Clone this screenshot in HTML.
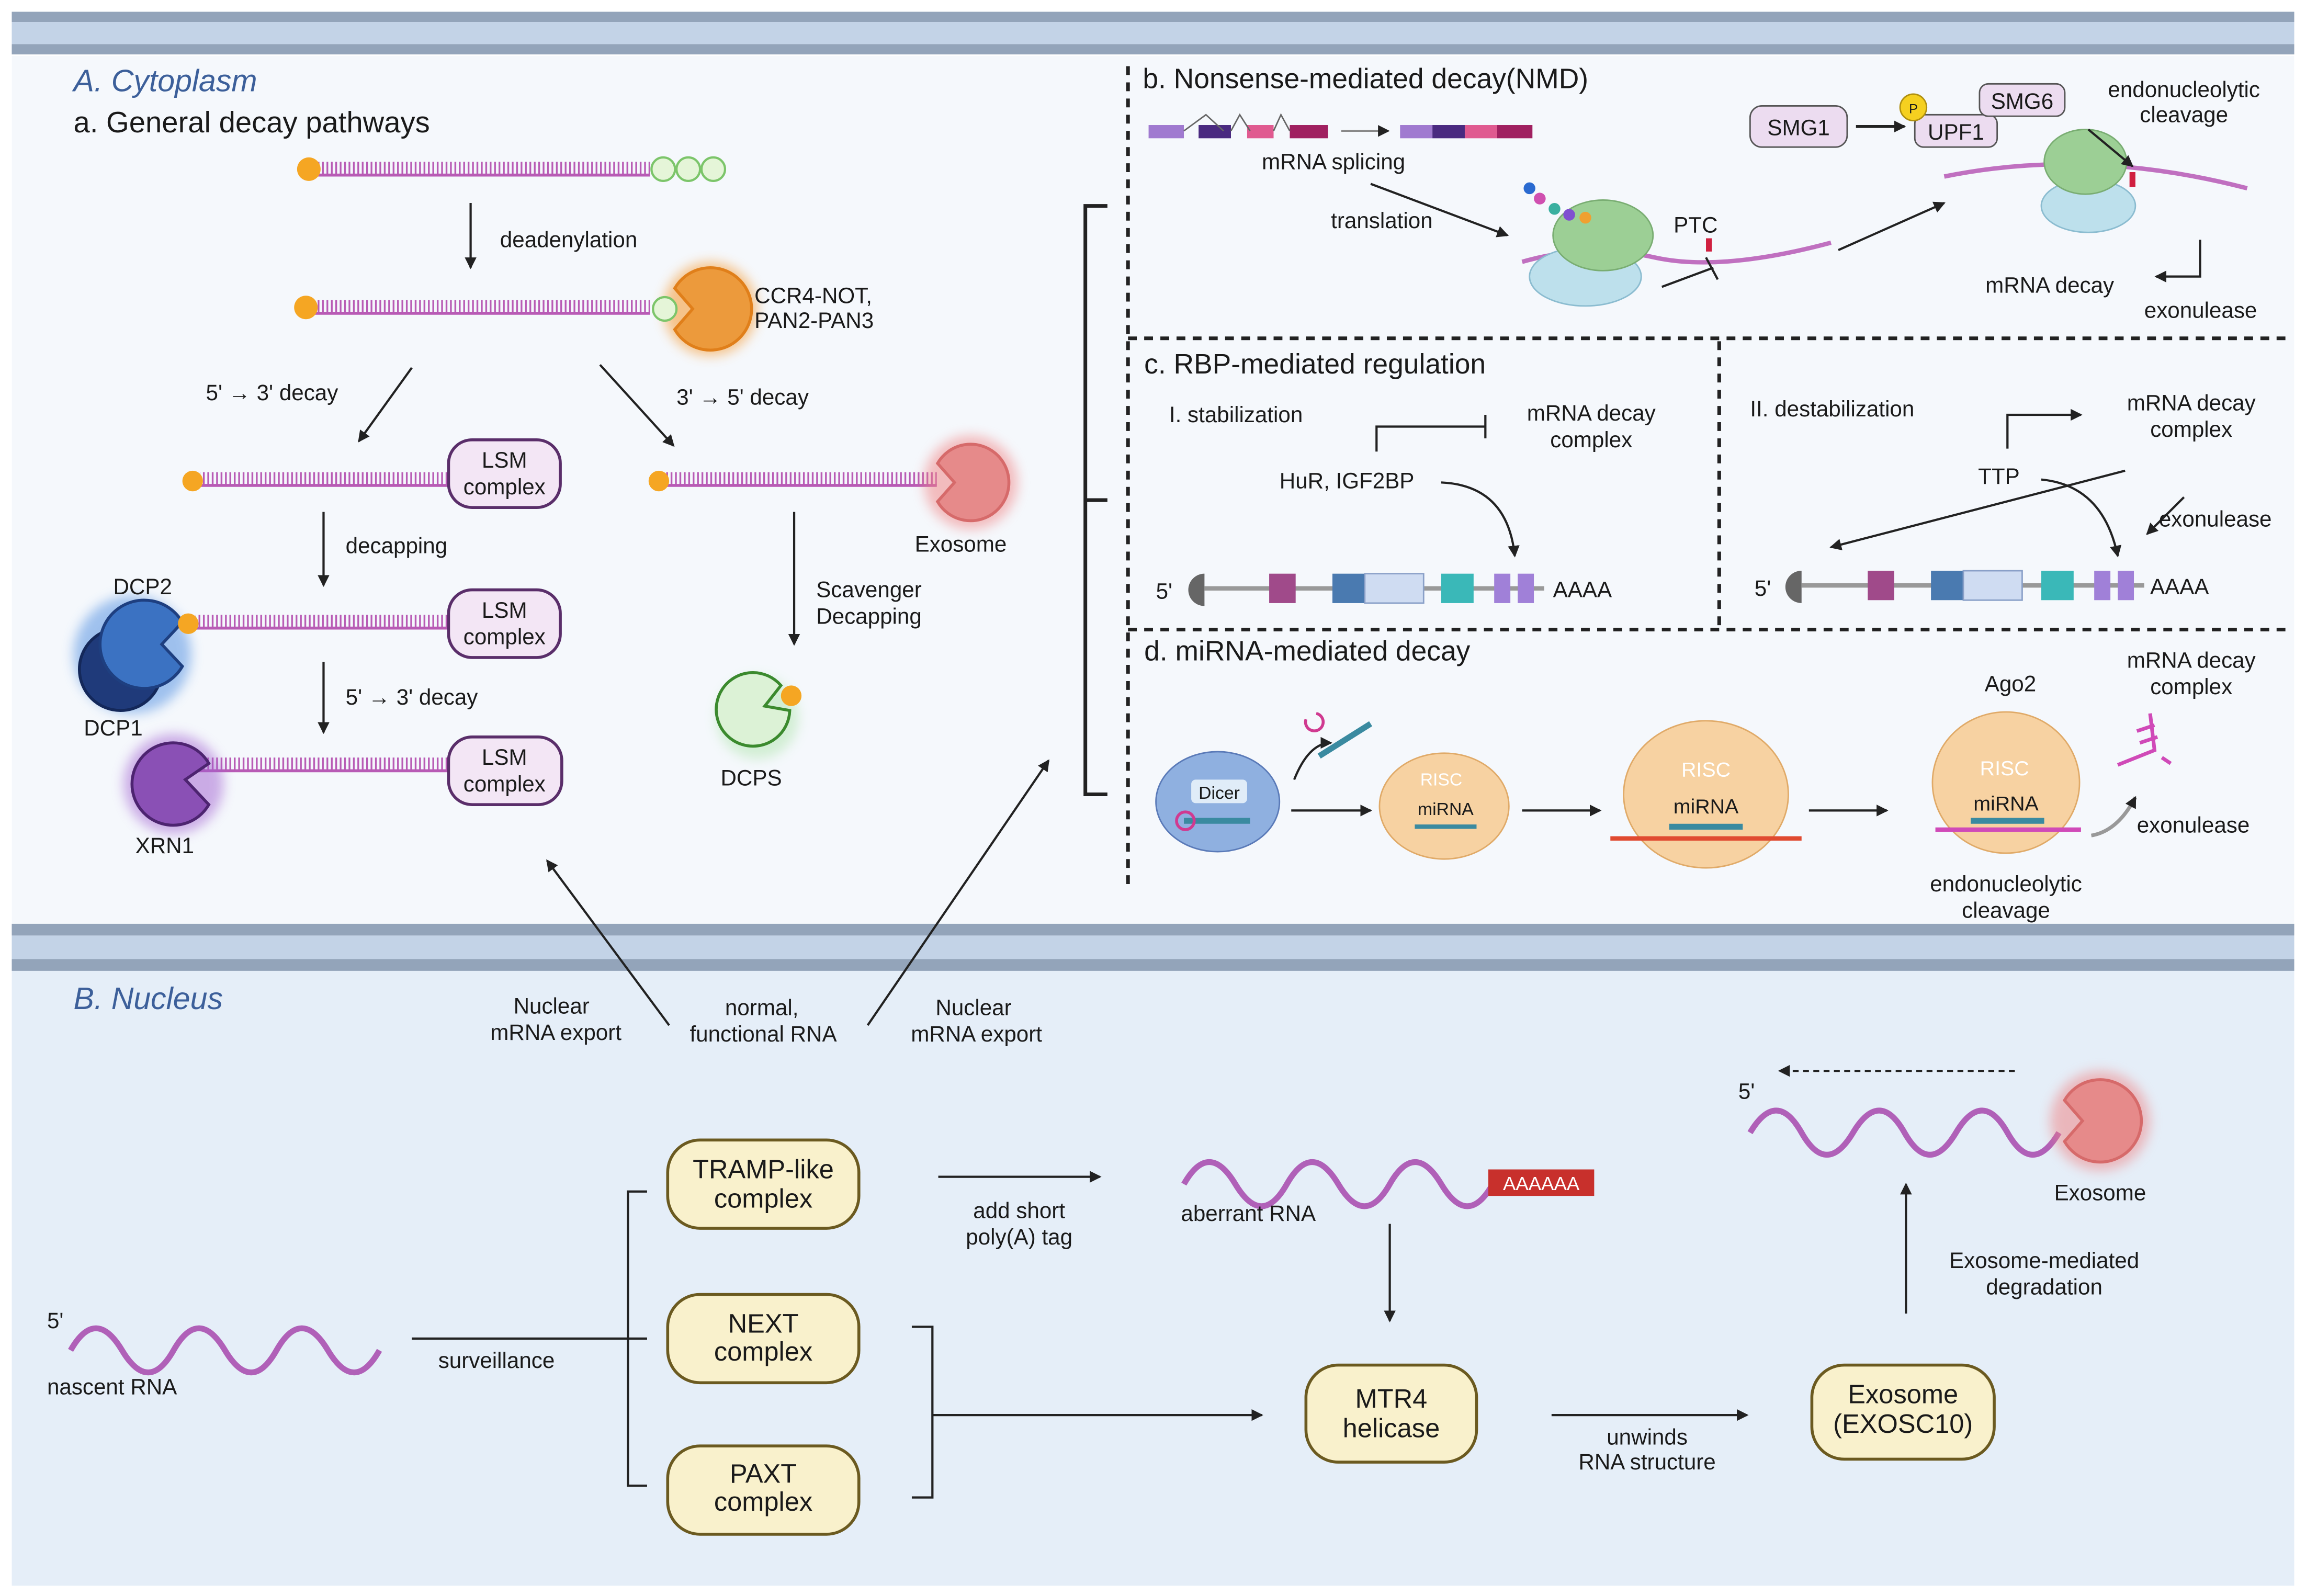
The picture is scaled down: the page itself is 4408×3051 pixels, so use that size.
<!DOCTYPE html>
<html><head><meta charset="utf-8"><style>
html,body{margin:0;padding:0;background:#fff}
svg{display:block}
text{font-family:"Liberation Sans",sans-serif;fill:#1a1a1a}
</style></head><body>
<svg width="4408" height="3051" viewBox="0 0 1568 1085" preserveAspectRatio="none" xmlns="http://www.w3.org/2000/svg">
<defs>
<pattern id="rung" width="3" height="10" patternUnits="userSpaceOnUse"><rect x="0" y="0" width="1.2" height="10" fill="#b85bb5"/></pattern>
<marker id="ar" markerWidth="8" markerHeight="8" refX="7" refY="4" orient="auto" markerUnits="userSpaceOnUse"><path d="M0,0 L8,4 L0,8 Z" fill="#222"/></marker>
<filter id="glow" x="-50%" y="-50%" width="200%" height="200%"><feGaussianBlur stdDeviation="4"/></filter>
</defs>
<rect width="1568" height="1085" fill="#fff"/>
<!-- cytoplasm -->
<rect x="8" y="38" width="1552" height="592" fill="#f5f8fc"/>
<rect x="8" y="8" width="1552" height="7" fill="#93a4ba"/>
<rect x="8" y="15" width="1552" height="15" fill="#c3d3e7"/>
<rect x="8" y="30" width="1552" height="7" fill="#93a4ba"/>
<!-- nucleus -->
<rect x="8" y="660" width="1552" height="418" fill="#e5eef8"/>
<rect x="8" y="628" width="1552" height="8" fill="#93a4ba"/>
<rect x="8" y="636" width="1552" height="16" fill="#c3d3e7"/>
<rect x="8" y="652" width="1552" height="8" fill="#93a4ba"/>

<text x="50" y="62" font-size="21" font-style="italic" fill="#3c5f9a" style="fill:#3c5f9a">A. Cytoplasm</text>
<text x="50" y="90" font-size="20">a. General decay pathways</text>
<text x="50" y="686" font-size="21" font-style="italic" style="fill:#3c5f9a">B. Nucleus</text>

<!-- dashed lines -->
<g stroke="#222" stroke-width="2.5" stroke-dasharray="6,5" fill="none">
<line x1="767" y1="45" x2="767" y2="606"/>
<line x1="767" y1="230" x2="1556" y2="230"/>
<line x1="767" y1="428" x2="1556" y2="428"/>
<line x1="1169" y1="232" x2="1169" y2="426"/>
</g>
<!-- bracket -->
<path d="M753,140 H738 V540 H753 M738,340 H753" stroke="#222" stroke-width="2.5" fill="none"/>

<!-- general decay: RNAs -->
<g>
<rect x="214" y="110" width="228" height="9" fill="url(#rung)"/><line x1="214" y1="119" x2="442" y2="119" stroke="#b85bb5" stroke-width="2"/>
<circle cx="210" cy="115" r="8" fill="#f5a623"/>
<g fill="#e5f5d8" stroke="#7cc56a" stroke-width="1.5"><circle cx="451" cy="115" r="8"/><circle cx="468" cy="115" r="8"/><circle cx="485" cy="115" r="8"/></g>
<line x1="320" y1="138" x2="320" y2="182" stroke="#222" stroke-width="1.5" marker-end="url(#ar)"/>
<text x="340" y="168" font-size="15">deadenylation</text>

<rect x="214" y="204" width="228" height="9" fill="url(#rung)"/><line x1="214" y1="213" x2="442" y2="213" stroke="#b85bb5" stroke-width="2"/>
<circle cx="208" cy="209" r="8" fill="#f5a623"/>
<circle cx="483" cy="210" r="32" fill="#f5a040" opacity="0.6" filter="url(#glow)"/>
<path d="M458.8,196 A28,28 0 1 1 458.8,224 L471,210 Z" fill="#ec9a3c" stroke="#e07f1a" stroke-width="2"/>
<circle cx="452" cy="210" r="8" fill="#e5f5d8" stroke="#7cc56a" stroke-width="1.5"/>
<text x="513" y="206" font-size="15">CCR4-NOT,</text>
<text x="513" y="223" font-size="15">PAN2-PAN3</text>

<line x1="280" y1="250" x2="244" y2="300" stroke="#222" stroke-width="1.5" marker-end="url(#ar)"/>
<line x1="408" y1="248" x2="458" y2="303" stroke="#222" stroke-width="1.5" marker-end="url(#ar)"/>
<text x="140" y="272" font-size="15">5' → 3' decay</text>
<text x="460" y="275" font-size="15">3' → 5' decay</text>

<!-- LSM rows -->
<rect x="136" y="321" width="170" height="9" fill="url(#rung)"/><line x1="136" y1="330" x2="306" y2="330" stroke="#b85bb5" stroke-width="2"/>
<circle cx="131" cy="327" r="7" fill="#f5a623"/>
<rect x="305" y="299" width="76" height="46" rx="16" fill="#f3e6f5" stroke="#5a2e6a" stroke-width="2"/>
<text x="343" y="318" font-size="15" text-anchor="middle">LSM</text><text x="343" y="336" font-size="15" text-anchor="middle">complex</text>

<line x1="220" y1="348" x2="220" y2="398" stroke="#222" stroke-width="1.5" marker-end="url(#ar)"/>
<text x="235" y="376" font-size="15">decapping</text>

<rect x="133" y="418" width="173" height="9" fill="url(#rung)"/><line x1="133" y1="427" x2="306" y2="427" stroke="#b85bb5" stroke-width="2"/>
<rect x="305" y="401" width="76" height="46" rx="16" fill="#f3e6f5" stroke="#5a2e6a" stroke-width="2"/>
<text x="343" y="420" font-size="15" text-anchor="middle">LSM</text><text x="343" y="438" font-size="15" text-anchor="middle">complex</text>
<circle cx="90" cy="445" r="40" fill="#4a8ae0" opacity="0.5" filter="url(#glow)"/>
<circle cx="82" cy="455" r="28" fill="#1f3a7a" stroke="#14285a" stroke-width="2"/>
<path d="M124,453 A30,30 0 1 1 124,423 L110,438 Z" fill="#3b72c2" stroke="#1e3f80" stroke-width="2"/>
<circle cx="128" cy="424" r="7" fill="#f5a623"/>
<text x="77" y="404" font-size="15">DCP2</text>
<text x="57" y="500" font-size="15">DCP1</text>

<line x1="220" y1="450" x2="220" y2="498" stroke="#222" stroke-width="1.5" marker-end="url(#ar)"/>
<text x="235" y="479" font-size="15">5' → 3' decay</text>

<rect x="130" y="515" width="176" height="9" fill="url(#rung)"/><line x1="130" y1="524" x2="306" y2="524" stroke="#b85bb5" stroke-width="2"/>
<rect x="305" y="501" width="77" height="46" rx="16" fill="#f3e6f5" stroke="#5a2e6a" stroke-width="2"/>
<text x="343" y="520" font-size="15" text-anchor="middle">LSM</text><text x="343" y="538" font-size="15" text-anchor="middle">complex</text>
<circle cx="118" cy="533" r="34" fill="#a060d0" opacity="0.5" filter="url(#glow)"/>
<path d="M142,547 A28,28 0 1 1 142,519 L126,530 Z" fill="#8a50b5" stroke="#4d2470" stroke-width="2"/>
<text x="92" y="580" font-size="15">XRN1</text>

<!-- right branch -->
<rect x="452" y="321" width="185" height="9" fill="url(#rung)"/><line x1="452" y1="330" x2="637" y2="330" stroke="#b85bb5" stroke-width="2"/>
<circle cx="448" cy="327" r="7" fill="#f5a623"/>
<circle cx="660" cy="328" r="32" fill="#f08080" opacity="0.5" filter="url(#glow)"/>
<path d="M637.5,315 A26,26 0 1 1 637.5,341 L649,328 Z" fill="#e68a8a" stroke="#d66a6a" stroke-width="2"/>
<text x="622" y="375" font-size="15">Exosome</text>
<line x1="540" y1="348" x2="540" y2="438" stroke="#222" stroke-width="1.5" marker-end="url(#ar)"/>
<text x="555" y="406" font-size="15">Scavenger</text><text x="555" y="424" font-size="15">Decapping</text>
<circle cx="515" cy="488" r="28" fill="#9fe09a" opacity="0.4" filter="url(#glow)"/>
<path d="M531,466 A25,25 0 1 0 537,483 L520,480 Z" fill="#dcf2d6" stroke="#3b8a2e" stroke-width="2"/>
<circle cx="538" cy="473" r="7" fill="#f5a623"/>
<text x="490" y="534" font-size="15">DCPS</text>
</g>

<!-- export arrows -->
<line x1="455" y1="697" x2="372" y2="585" stroke="#222" stroke-width="1.5" marker-end="url(#ar)"/>
<line x1="590" y1="697" x2="713" y2="517" stroke="#222" stroke-width="1.5" marker-end="url(#ar)"/>
<text x="375" y="689" font-size="15" text-anchor="middle">Nuclear</text><text x="378" y="707" font-size="15" text-anchor="middle">mRNA export</text>
<text x="518" y="690" font-size="15" text-anchor="middle">normal,</text><text x="519" y="708" font-size="15" text-anchor="middle">functional RNA</text>
<text x="662" y="690" font-size="15" text-anchor="middle">Nuclear</text><text x="664" y="708" font-size="15" text-anchor="middle">mRNA export</text>

<!-- b. NMD -->
<text x="777" y="60" font-size="19">b. Nonsense-mediated decay(NMD)</text>
<g>
<rect x="781" y="85" width="24" height="9" fill="#a07ad0"/><rect x="815" y="85" width="22" height="9" fill="#4a2a80"/><rect x="848" y="85" width="18" height="9" fill="#e05a90"/><rect x="877" y="85" width="26" height="9" fill="#a02060"/>
<path d="M805,89 L820,78 L832,89 M837,89 L843,78 L850,89 M866,89 L871,78 L877,89" stroke="#666" fill="none"/>
<line x1="912" y1="89" x2="944" y2="89" stroke="#888" stroke-width="1.2" marker-end="url(#ar)"/>
<rect x="952" y="85" width="22" height="9" fill="#a07ad0"/><rect x="974" y="85" width="22" height="9" fill="#4a2a80"/><rect x="996" y="85" width="22" height="9" fill="#e05a90"/><rect x="1018" y="85" width="24" height="9" fill="#a02060"/>
<text x="858" y="115" font-size="15">mRNA splicing</text>
<text x="905" y="155" font-size="15">translation</text>
<line x1="932" y1="125" x2="1025" y2="160" stroke="#222" stroke-width="1.5" marker-end="url(#ar)"/>
<path d="M1035,178 Q1080,165 1125,175 T1245,165" stroke="#c070c0" stroke-width="3" fill="none"/>
<ellipse cx="1078" cy="188" rx="38" ry="20" fill="#bde0ec" stroke="#8bbcd0"/>
<ellipse cx="1090" cy="160" rx="34" ry="24" fill="#9ccf95" stroke="#79ad72"/>
<circle cx="1040" cy="128" r="4" fill="#2a6ad0"/><circle cx="1047" cy="135" r="4" fill="#d050b0"/><circle cx="1057" cy="142" r="4" fill="#3ab0a0"/><circle cx="1067" cy="146" r="4" fill="#8050d0"/><circle cx="1078" cy="148" r="4" fill="#f0a030"/>
<text x="1138" y="158" font-size="15">PTC</text>
<rect x="1160" y="162" width="4" height="9" fill="#d02040"/>
<path d="M1130,195 L1165,182 M1160,175 L1168,190" stroke="#222" stroke-width="1.5" fill="none"/>
<line x1="1250" y1="170" x2="1322" y2="138" stroke="#222" stroke-width="1.5" marker-end="url(#ar)"/>
<rect x="1190" y="72" width="66" height="28" rx="8" fill="#ecdcf0" stroke="#555"/>
<text x="1223" y="92" font-size="15" text-anchor="middle">SMG1</text>
<line x1="1262" y1="86" x2="1295" y2="86" stroke="#222" stroke-width="2" marker-end="url(#ar)"/>
<rect x="1302" y="78" width="56" height="22" rx="6" fill="#ecdcf0" stroke="#555"/>
<text x="1330" y="95" font-size="15" text-anchor="middle">UPF1</text>
<circle cx="1301" cy="73" r="9" fill="#f5d020" stroke="#b09010"/><text x="1301" y="77" font-size="9" text-anchor="middle">P</text>
<rect x="1346" y="57" width="58" height="22" rx="6" fill="#ecdcf0" stroke="#555"/>
<text x="1375" y="74" font-size="15" text-anchor="middle">SMG6</text>
<path d="M1322,120 Q1420,100 1528,128" stroke="#c070c0" stroke-width="3" fill="none"/>
<ellipse cx="1420" cy="140" rx="32" ry="18" fill="#bde0ec" stroke="#8bbcd0"/>
<ellipse cx="1418" cy="110" rx="28" ry="22" fill="#9ccf95" stroke="#79ad72"/>
<rect x="1448" y="117" width="4" height="10" fill="#d02040"/>
<text x="1485" y="66" font-size="15" text-anchor="middle">endonucleolytic</text><text x="1485" y="83" font-size="15" text-anchor="middle">cleavage</text>
<line x1="1420" y1="88" x2="1450" y2="113" stroke="#222" stroke-width="1.5" marker-end="url(#ar)"/>
<text x="1350" y="199" font-size="15">mRNA decay</text>
<path d="M1496,163 V188 H1466" stroke="#222" stroke-width="1.5" fill="none" marker-end="url(#ar)"/>
<text x="1458" y="216" font-size="15">exonulease</text>
</g>

<!-- c. RBP -->
<text x="778" y="254" font-size="19">c. RBP-mediated regulation</text>
<text x="795" y="287" font-size="15">I. stabilization</text>
<text x="1082" y="286" font-size="15" text-anchor="middle">mRNA decay</text><text x="1082" y="304" font-size="15" text-anchor="middle">complex</text>
<path d="M936,307 V290 H1010 M1010,282 V298" stroke="#222" stroke-width="1.5" fill="none"/>
<text x="870" y="332" font-size="15">HuR, IGF2BP</text>
<path d="M980,328 Q1025,330 1030,378" stroke="#222" stroke-width="1.5" fill="none" marker-end="url(#ar)"/>
<text x="786" y="407" font-size="15">5'</text>
<path d="M819,390 A11,11 0 0 0 819,412 Z" fill="#666"/>
<line x1="819" y1="400" x2="1050" y2="400" stroke="#999" stroke-width="3"/>
<rect x="863" y="390" width="18" height="20" fill="#a04a8a"/><rect x="906" y="390" width="22" height="20" fill="#4a7ab0"/><rect x="928" y="390" width="40" height="20" fill="#cfdcf2" stroke="#8aa0c8"/><rect x="980" y="390" width="22" height="20" fill="#3ab8b8"/><rect x="1016" y="390" width="11" height="20" fill="#a080d8"/><rect x="1032" y="390" width="11" height="20" fill="#a080d8"/>
<text x="1056" y="406" font-size="15">AAAA</text>

<text x="1190" y="283" font-size="15">II. destabilization</text>
<text x="1490" y="279" font-size="15" text-anchor="middle">mRNA decay</text><text x="1490" y="297" font-size="15" text-anchor="middle">complex</text>
<path d="M1365,305 V282 H1415" stroke="#222" stroke-width="1.5" fill="none" marker-end="url(#ar)"/>
<text x="1345" y="329" font-size="15">TTP</text>
<line x1="1445" y1="320" x2="1245" y2="372" stroke="#222" stroke-width="1.5" marker-end="url(#ar)"/>
<path d="M1388,326 Q1430,330 1440,378" stroke="#222" stroke-width="1.5" fill="none" marker-end="url(#ar)"/>
<line x1="1485" y1="338" x2="1460" y2="363" stroke="#222" stroke-width="1.5" marker-end="url(#ar)"/>
<text x="1468" y="358" font-size="15">exonulease</text>
<text x="1193" y="405" font-size="15">5'</text>
<path d="M1225,388 A11,11 0 0 0 1225,410 Z" fill="#666"/>
<line x1="1225" y1="398" x2="1458" y2="398" stroke="#999" stroke-width="3"/>
<rect x="1270" y="388" width="18" height="20" fill="#a04a8a"/><rect x="1313" y="388" width="22" height="20" fill="#4a7ab0"/><rect x="1335" y="388" width="40" height="20" fill="#cfdcf2" stroke="#8aa0c8"/><rect x="1388" y="388" width="22" height="20" fill="#3ab8b8"/><rect x="1424" y="388" width="11" height="20" fill="#a080d8"/><rect x="1440" y="388" width="11" height="20" fill="#a080d8"/>
<text x="1462" y="404" font-size="15">AAAA</text>

<!-- d. miRNA -->
<text x="778" y="449" font-size="19">d. miRNA-mediated decay</text>
<ellipse cx="828" cy="545" rx="42" ry="34" fill="#8fb0e0" stroke="#5a7ab8"/>
<rect x="810" y="530" width="38" height="16" rx="3" fill="#e0ecf8"/><text x="829" y="543" font-size="12" text-anchor="middle">Dicer</text>
<line x1="805" y1="558" x2="850" y2="558" stroke="#3a8aa0" stroke-width="4"/>
<circle cx="806" cy="558" r="6" fill="none" stroke="#d03a90" stroke-width="2"/>
<path d="M880,530 Q890,505 905,505" stroke="#222" stroke-width="1.5" fill="none" marker-end="url(#ar)"/>
<path d="M895,485 A6,6 0 1 1 888,489" stroke="#d03a90" stroke-width="2" fill="none"/>
<line x1="897" y1="514" x2="932" y2="492" stroke="#3a8aa0" stroke-width="4"/>
<line x1="878" y1="551" x2="932" y2="551" stroke="#222" stroke-width="1.5" marker-end="url(#ar)"/>
<ellipse cx="982" cy="548" rx="44" ry="36" fill="#f7d2a2" stroke="#e0aa68"/>
<text x="980" y="534" font-size="12" text-anchor="middle" style="fill:#fff">RISC</text>
<text x="983" y="554" font-size="12" text-anchor="middle">miRNA</text>
<line x1="962" y1="562" x2="1004" y2="562" stroke="#3a8aa0" stroke-width="3"/>
<line x1="1035" y1="551" x2="1088" y2="551" stroke="#222" stroke-width="1.5" marker-end="url(#ar)"/>
<ellipse cx="1160" cy="540" rx="56" ry="50" fill="#f7d2a2" stroke="#e0aa68"/>
<text x="1160" y="528" font-size="14" text-anchor="middle" style="fill:#fff">RISC</text>
<text x="1160" y="553" font-size="14" text-anchor="middle">miRNA</text>
<line x1="1095" y1="570" x2="1225" y2="570" stroke="#e04a30" stroke-width="3"/>
<line x1="1135" y1="562" x2="1185" y2="562" stroke="#3a8aa0" stroke-width="4"/>
<line x1="1230" y1="551" x2="1283" y2="551" stroke="#222" stroke-width="1.5" marker-end="url(#ar)"/>
<text x="1367" y="470" font-size="15" text-anchor="middle">Ago2</text>
<ellipse cx="1364" cy="532" rx="50" ry="48" fill="#f7d2a2" stroke="#e0aa68"/>
<text x="1363" y="527" font-size="14" text-anchor="middle" style="fill:#fff">RISC</text>
<text x="1364" y="551" font-size="14" text-anchor="middle">miRNA</text>
<line x1="1316" y1="564" x2="1415" y2="564" stroke="#d04ab8" stroke-width="3"/>
<line x1="1340" y1="558" x2="1390" y2="558" stroke="#3a8aa0" stroke-width="4"/>
<text x="1364" y="606" font-size="15" text-anchor="middle">endonucleolytic</text><text x="1364" y="624" font-size="15" text-anchor="middle">cleavage</text>
<text x="1490" y="454" font-size="15" text-anchor="middle">mRNA decay</text><text x="1490" y="472" font-size="15" text-anchor="middle">complex</text>
<path d="M1440,520 L1465,510 L1462,485 M1455,505 l12,-4 M1453,497 l12,-4 M1470,515 l6,4" stroke="#d04ab8" stroke-width="2.5" fill="none"/>
<path d="M1422,568 Q1440,565 1452,542" stroke="#999" stroke-width="2.5" fill="none" marker-end="url(#ar)"/>
<text x="1453" y="566" font-size="15">exonulease</text>
</g>

<!-- NUCLEUS -->
<path d="M48,918 q17,-30 35,0 t35,0 t35,0 t35,0 t35,0 t35,0" stroke="#b060b8" stroke-width="4" fill="none"/>
<text x="32" y="903" font-size="15">5'</text>
<text x="32" y="948" font-size="15">nascent RNA</text>
<line x1="280" y1="910" x2="440" y2="910" stroke="#222" stroke-width="1.5"/>
<text x="298" y="930" font-size="15">surveillance</text>
<path d="M440,810 H427 V1010 H440" stroke="#222" stroke-width="1.5" fill="none"/>
<g fill="#f9f1cc" stroke="#6b5a20" stroke-width="2">
<rect x="454" y="775" width="130" height="60" rx="22"/>
<rect x="454" y="880" width="130" height="60" rx="22"/>
<rect x="454" y="983" width="130" height="60" rx="22"/>
<rect x="888" y="928" width="116" height="66" rx="22"/>
<rect x="1232" y="928" width="124" height="64" rx="22"/>
</g>
<text x="519" y="801" font-size="18" text-anchor="middle">TRAMP-like</text><text x="519" y="821" font-size="18" text-anchor="middle">complex</text>
<text x="519" y="906" font-size="18" text-anchor="middle">NEXT</text><text x="519" y="925" font-size="18" text-anchor="middle">complex</text>
<text x="519" y="1008" font-size="18" text-anchor="middle">PAXT</text><text x="519" y="1027" font-size="18" text-anchor="middle">complex</text>
<text x="946" y="957" font-size="18" text-anchor="middle">MTR4</text><text x="946" y="977" font-size="18" text-anchor="middle">helicase</text>
<text x="1294" y="954" font-size="18" text-anchor="middle">Exosome</text><text x="1294" y="974" font-size="18" text-anchor="middle">(EXOSC10)</text>
<line x1="638" y1="800" x2="748" y2="800" stroke="#222" stroke-width="1.5" marker-end="url(#ar)"/>
<text x="693" y="828" font-size="15" text-anchor="middle">add short</text><text x="693" y="846" font-size="15" text-anchor="middle">poly(A) tag</text>
<path d="M805,805 q17,-30 35,0 t35,0 t35,0 t35,0 t35,0 t35,0" stroke="#b060b8" stroke-width="4" fill="none"/>
<rect x="1012" y="795" width="72" height="18" fill="#c8302c"/>
<text x="1048" y="809" font-size="13" text-anchor="middle" style="fill:#fff">AAAAAA</text>
<text x="803" y="830" font-size="15">aberrant RNA</text>
<line x1="945" y1="832" x2="945" y2="898" stroke="#222" stroke-width="1.5" marker-end="url(#ar)"/>
<path d="M620,902 H634 V1018 H620" stroke="#222" stroke-width="1.5" fill="none"/>
<line x1="634" y1="962" x2="858" y2="962" stroke="#222" stroke-width="1.5" marker-end="url(#ar)"/>
<line x1="1055" y1="962" x2="1188" y2="962" stroke="#222" stroke-width="1.5" marker-end="url(#ar)"/>
<text x="1120" y="982" font-size="15" text-anchor="middle">unwinds</text><text x="1120" y="999" font-size="15" text-anchor="middle">RNA structure</text>
<line x1="1296" y1="893" x2="1296" y2="805" stroke="#222" stroke-width="1.5" marker-end="url(#ar)"/>
<text x="1390" y="862" font-size="15" text-anchor="middle">Exosome-mediated</text><text x="1390" y="880" font-size="15" text-anchor="middle">degradation</text>
<path d="M1190,770 q18,-30 35,0 t35,0 t35,0 t35,0 t35,0 t35,0" stroke="#b060b8" stroke-width="4" fill="none"/>
<text x="1182" y="747" font-size="15">5'</text>
<line x1="1370" y1="728" x2="1210" y2="728" stroke="#222" stroke-width="1.5" stroke-dasharray="4,3" marker-end="url(#ar)"/>
<circle cx="1428" cy="762" r="34" fill="#f08080" opacity="0.5" filter="url(#glow)"/>
<path d="M1403.8,748 A28,28 0 1 1 1403.8,776 L1416,762 Z" fill="#e68a8a" stroke="#d66a6a" stroke-width="2"/>
<text x="1428" y="816" font-size="15" text-anchor="middle">Exosome</text>
</svg>
</body></html>
